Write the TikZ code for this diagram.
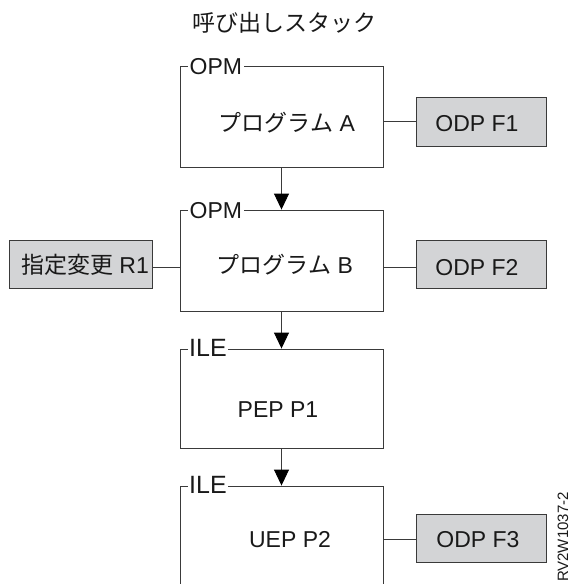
\documentclass[tikz,border=0pt]{standalone}
\usepackage{fontspec}
\setmainfont{Liberation Sans}
\newfontfamily\jp{Noto Sans CJK JP}
\usetikzlibrary{arrows.meta}
\definecolor{linecol}{HTML}{3A3A3A}
\definecolor{boxgray}{HTML}{D3D4D6}
\begin{document}
\begin{tikzpicture}[x=1pt,y=-1pt,
  every node/.style={font=\fontsize{23}{27}\selectfont, text=black!90},
  stackbox/.style={draw=linecol, line width=0.9pt, minimum width=203pt, inner sep=0pt},
  grey/.style={draw=linecol, fill=boxgray, line width=0.9pt, minimum width=130pt, minimum height=48pt, inner sep=0pt},
  tag/.style={fill=white, inner xsep=1.5pt, inner ysep=0pt, anchor=base west},
  iletag/.style={tag, font=\fontsize{25}{29}\selectfont},
  txt/.style={anchor=base, inner sep=0pt},
  conn/.style={draw=linecol, line width=0.9pt},
  flow/.style={conn, -{Triangle[width=15pt,length=16pt,color=black]}}]
\useasboundingbox (0,0) rectangle (574,584);
\clip (0,0) rectangle (574,584);

% title
\node[txt] (title) at (284,31) {\jp 呼び出しスタック};

% stack boxes
\node[stackbox, minimum height=101pt] (progA) at (281.5,116.5) {};
\node[stackbox, minimum height=101pt] (progB) at (281.5,260.5) {};
\node[stackbox, minimum height=99pt]  (pepP1) at (281.5,398.5) {};
\node[stackbox, minimum height=130pt] (uepP2) at (281.5,551) {};

% texts inside
\node[txt] (tA) at (287,131) {{\jp プログラム} A};
\node[txt] (tB) at (285,273) {{\jp プログラム} B};
\node[txt] (t1) at (278,417) {PEP P1};
\node[txt] (t2) at (290,547) {UEP P2};

% tags on top borders
\node[tag] (lA) at (188,74) {OPM};
\node[tag] (lB) at (188,218) {OPM};
\node[iletag] (l1) at (187.5,356) {ILE\hspace{3.5pt}};
\node[iletag] (l2) at (187.5,493) {ILE\hspace{2pt}};

% side boxes
\node[grey, minimum height=49pt] (odp1) at (481,121.5) {};
\node[txt] (o1) at (477,131) {ODP F1};
\node[grey] (odp2) at (481,264) {};
\node[txt] (o2) at (477,275) {ODP F2};
\node[grey] (odp3) at (481,538) {};
\node[txt] (o3) at (478,547) {ODP F3};
\node[grey, minimum width=143pt] (r1) at (80.5,264) {};
\node[txt] (tr) at (85,273) {{\jp 指定変更} R1};

% connectors
\draw[conn] (odp1.west -| progA.east) -- (odp1.west);
\draw[conn] ([yshift=-3pt]odp2.west -| progB.east) -- ([yshift=-3pt]odp2.west);
\draw[conn] ([yshift=-3pt]r1.east) -- ([yshift=-3pt]r1.east -| progB.west);
\draw[conn] ([yshift=-1pt]odp3.west -| uepP2.east) -- ([yshift=-1pt]odp3.west);

\draw[flow] (progA) -- (progB);
\draw[flow] (progB) -- (pepP1);
\draw[flow] (pepP1) -- (uepP2);

% figure id
\node[font=\fontsize{15}{18}\selectfont, rotate=90, anchor=base east, inner sep=0pt] (fig) at (568,492) {RV2W1037-2};
\end{tikzpicture}
\end{document}
